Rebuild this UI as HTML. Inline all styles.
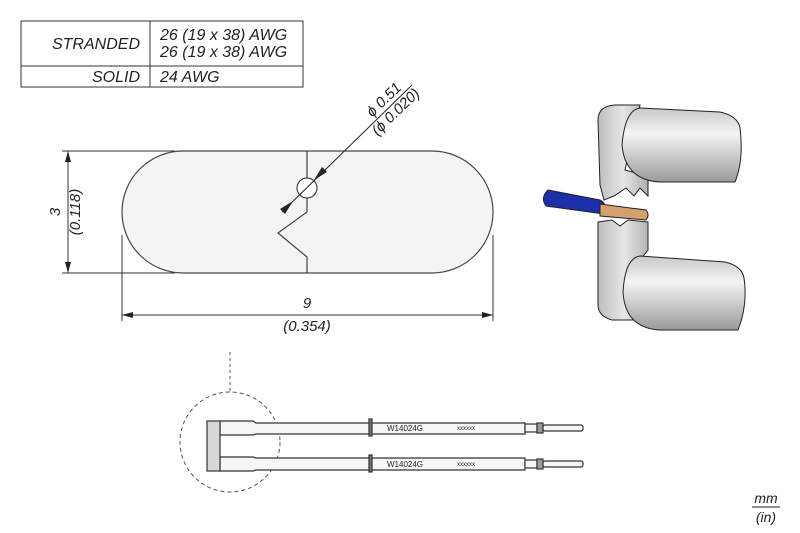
<!DOCTYPE html>
<html><head><style>body{margin:0;background:#fff}svg{display:block}text{font-family:"Liberation Sans",sans-serif;font-style:italic}</style></head><body>
<svg width="800" height="533" viewBox="0 0 800 533">
<defs>
<linearGradient id="cyl" x1="0" y1="0" x2="0" y2="1"><stop offset="0" stop-color="#c8c8c8"/><stop offset=".35" stop-color="#f4f4f4"/><stop offset="1" stop-color="#9a9a9a"/></linearGradient>
<linearGradient id="pl" x1="0" y1="0" x2="1" y2="0"><stop offset="0" stop-color="#bdbdbd"/><stop offset=".5" stop-color="#e6e6e6"/><stop offset="1" stop-color="#b0b0b0"/></linearGradient>
</defs>
<g stroke="#333" fill="none" stroke-width="1"><rect x="21" y="21" width="282" height="66"/><line x1="150" y1="21" x2="150" y2="87"/><line x1="21" y1="66" x2="303" y2="66"/></g>
<g font-size="16" fill="#222"><text x="140" y="49" text-anchor="end">STRANDED</text><text x="160" y="40">26 (19 x 38) AWG</text><text x="160" y="57">26 (19 x 38) AWG</text><text x="140" y="82" text-anchor="end">SOLID</text><text x="160" y="82">24 AWG</text></g>
<rect x="122" y="151" width="371" height="122" rx="61" fill="#f4f4f4" stroke="#444" stroke-width="1.2"/>
<path d="M307 151V178M307 198V212L278 233L307 257V273" fill="none" stroke="#444" stroke-width="1.2"/>
<circle cx="307" cy="188" r="10" fill="#fff" stroke="#444" stroke-width="1.2"/>
<line x1="412" y1="85" x2="282" y2="212" stroke="#222"/>
<polygon points="314,180 322,167 327,172" fill="#222"/>
<polygon points="293,201 285,214 280,209" fill="#222"/>
<g transform="translate(390,106) rotate(-44)" font-size="15" fill="#222" text-anchor="middle"><text x="0" y="-4">ϕ 0.51</text><text x="0" y="13">(ϕ 0.020)</text></g>
<g stroke="#333" stroke-width="1"><line x1="62" y1="151" x2="175" y2="151"/><line x1="62" y1="273" x2="175" y2="273"/><line x1="68" y1="151" x2="68" y2="273"/><line x1="122" y1="235" x2="122" y2="321"/><line x1="493" y1="235" x2="493" y2="321"/><line x1="122" y1="315" x2="493" y2="315"/></g>
<g fill="#222"><polygon points="68,151 65,162 71,162"/><polygon points="68,273 65,262 71,262"/><polygon points="122,315 133,312 133,318"/><polygon points="493,315 482,312 482,318"/></g>
<g font-size="15" fill="#222" text-anchor="middle"><text transform="translate(60,212) rotate(-90)">3</text><text transform="translate(80,212) rotate(-90)">(0.118)</text><text x="307" y="308">9</text><text x="307" y="331">(0.354)</text></g>
<line x1="230" y1="352" x2="230" y2="392" stroke="#555" stroke-dasharray="3,3"/>
<circle cx="230" cy="442" r="50" fill="none" stroke="#555" stroke-dasharray="4,3"/>
<g stroke="#333" stroke-width="1.2" fill="#f6f6f6">
<path d="M220 421H253L256 423H525V434H256L253 435H220Z"/>
<path d="M220 457H253L256 458H525V470H256L253 471H220Z"/>
<path d="M220 435Q210 446 220 457" fill="none"/>
<rect x="207" y="421" width="13" height="50" fill="#d8d8d8"/>
<rect x="525" y="424" width="12" height="8"/><rect x="525" y="460" width="12" height="8"/>
<rect x="537" y="423" width="6" height="10" fill="#999"/><rect x="537" y="459" width="6" height="10" fill="#999"/>
<rect x="543" y="425" width="40" height="6" rx="2"/><rect x="543" y="461" width="40" height="6" rx="2"/>
<rect x="369" y="419" width="3" height="17" fill="#777"/><rect x="369" y="455" width="3" height="17" fill="#777"/>
</g>
<g font-size="8" fill="#222"><text x="387" y="431" style="font-style:normal">W14024G</text><text x="387" y="467" style="font-style:normal">W14024G</text><text x="457" y="430" font-size="6" style="font-style:normal">xxxxxx</text><text x="457" y="466" font-size="6" style="font-style:normal">xxxxxx</text></g>
<g stroke="#222" stroke-width="1">
<path d="M598 120Q598 106 615 105H640L625 170L648 176L648 196L640 188L634 196L626 188L614 196L604 200L600 185Z" fill="url(#pl)"/>
<path d="M598 222L612 220L620 226L628 220L648 222L648 250L640 260L650 305L640 320H612Q598 316 598 305Z" fill="url(#pl)"/>
<path d="M640 108L720 112Q738 116 740 128Q744 160 735 182L660 182Q625 180 622 145Q625 110 640 108Z" fill="url(#cyl)"/>
<path d="M640 256L725 262Q742 266 744 278Q748 305 738 330L660 330Q625 328 623 292Q625 258 640 256Z" fill="url(#cyl)"/>
<path d="M548 190L600 200Q608 204 604 214L546 206Q540 198 548 190Z" fill="#1a2fa8"/>
<path d="M600 204L646 210Q650 215 646 220L600 216Z" fill="#d4a070"/>
</g>
<g font-size="14" fill="#222" text-anchor="middle"><text x="766" y="503">mm</text><line x1="752" y1="507" x2="780" y2="507" stroke="#222"/><text x="766" y="522">(in)</text></g>
</svg>
</body></html>
